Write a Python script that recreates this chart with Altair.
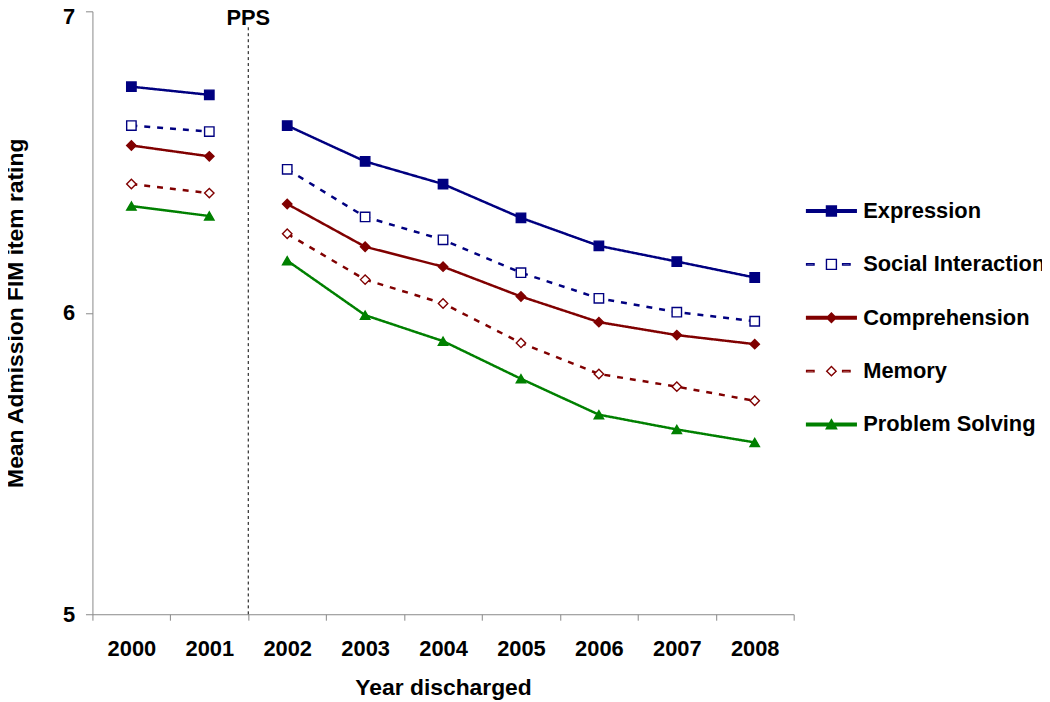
import altair as alt
import pandas as pd

years = ["2000", "2001", "2002", "2003", "2004", "2005", "2006", "2007", "2008"]
series_names = ["Expression", "Social Interaction", "Comprehension", "Memory", "Problem Solving"]
expression = [6.750, 6.723, 6.621, 6.502, 6.427, 6.315, 6.222, 6.170, 6.117]
social = [6.621, 6.601, 6.476, 6.318, 6.242, 6.133, 6.048, 6.002, 5.972]
comprehension = [6.555, 6.519, 6.361, 6.219, 6.153, 6.054, 5.969, 5.926, 5.896]
memory = [6.427, 6.397, 6.262, 6.110, 6.031, 5.900, 5.797, 5.755, 5.708]
problem = [6.354, 6.321, 6.173, 5.992, 5.906, 5.781, 5.662, 5.613, 5.570]
y_ticks = [5, 6, 7]
pps_year = "2002"
pps_label = "PPS"

colors = ["#000080", "#000080", "#800000", "#800000", "#008000"]
fills = ["#000080", "#ffffff", "#800000", "#ffffff", "#008000"]
shapes = ["square", "square", "diamond", "diamond", "triangle-up"]
dashes = [[1, 0], [6, 7], [1, 0], [6, 7], [1, 0]]

line_solid = "M-1,-0.05H1V0.05H-1Z"
line_dashed = "M-1,-0.03H-0.7V0.03H-1Z M0.45,-0.03H0.75V0.03H0.45Z"
sq = "M-0.2,-0.2H0.2V0.2H-0.2Z"
dia = "M0,-0.19L0.19,0L0,0.19L-0.19,0Z"
tri = "M0,-0.2L0.21,0.17H-0.21Z"
legend_shapes = [line_solid + " " + sq, line_dashed + " " + sq, line_solid + " " + dia,
                 line_dashed + " " + dia, line_solid + " " + tri]

rows = []
for name, vals in zip(series_names, [expression, social, comprehension, memory, problem]):
    for y, v in zip(years, vals):
        rows.append({"series": name, "year": y, "value": v,
                     "segment": "pre" if int(y) < 2002 else "post"})
df = pd.DataFrame(rows)

FONT = "Liberation Sans"

x_enc = alt.X("year:O", sort=years, scale=alt.Scale(paddingInner=0, paddingOuter=0),
              axis=alt.Axis(title="Year discharged", labelAngle=0, tickBand="extent",
                            labelPadding=19, titlePadding=17, tickSize=6,
                            domainColor="#888888", tickColor="#888888"))
y_scale = alt.Scale(domain=[5, 7], nice=False, zero=False)
y_enc = alt.Y("value:Q", scale=y_scale,
              axis=alt.Axis(title="Mean Admission FIM item rating", values=y_ticks,
                            labelExpr="format(datum.value, '.0f')",
                            grid=False, tickSize=7, labelPadding=11, titlePadding=35,
                            labelOverlap=False, labelFlush=False,
                            labelOffset={"condition": {"test": "datum.value == 7", "value": 5}, "value": 0},
                            domainColor="#888888", tickColor="#888888"))

color_scale = alt.Scale(domain=series_names, range=colors)
fill_scale = alt.Scale(domain=series_names, range=fills)

lines = alt.Chart(df).mark_line(strokeWidth=2.5).encode(
    x=x_enc, y=y_enc,
    color=alt.Color("series:N", scale=color_scale, legend=None),
    strokeDash=alt.StrokeDash("series:N", scale=alt.Scale(domain=series_names, range=dashes), legend=None),
    detail="segment:N",
)

points = alt.Chart(df).mark_point(filled=False, size=90, strokeWidth=1.4, opacity=1).encode(
    x=alt.X("year:O", sort=years), y=alt.Y("value:Q"),
    color=alt.Color("series:N", scale=color_scale, legend=None),
    fill=alt.Fill("series:N", scale=fill_scale, legend=None),
    shape=alt.Shape("series:N", scale=alt.Scale(domain=series_names, range=shapes), legend=None),
)

pps_df = pd.DataFrame({"year": [pps_year], "top": [6.947], "bottom": [5.0], "label_y": [7.0], "label": [pps_label]})
pps_rule = alt.Chart(pps_df).mark_rule(color="black", strokeDash=[3, 3], strokeWidth=1).encode(
    x=alt.X("year:O", sort=years, bandPosition=0), y="top:Q", y2="bottom:Q")
pps_text = alt.Chart(pps_df).mark_text(font=FONT, fontSize=22, fontWeight="bold", color="black",
                                       align="center", baseline="middle", dy=7).encode(
    x=alt.X("year:O", sort=years, bandPosition=0), y="label_y:Q", text="label:N")

main = alt.layer(lines, points, pps_rule, pps_text)

leg = alt.Legend(title=None, orient="none", legendX=718, legendY=175,
                 symbolSize=2500, labelOffset=6, rowPadding=16.75, labelLimit=400,
                 labelFont=FONT, labelFontSize=22, labelFontWeight="bold",
                 labelColor="black", symbolStrokeWidth=1.4, symbolOpacity=1)

legend_layer = alt.Chart(df).transform_filter(alt.datum.value < 0).mark_point(
    filled=False, strokeWidth=1.4, opacity=1).encode(
    x=alt.X("year:O", sort=years), y=alt.Y("value:Q"),
    color=alt.Color("series:N", scale=alt.Scale(domain=series_names, range=colors), legend=leg),
    fill=alt.Fill("series:N", scale=alt.Scale(domain=series_names, range=fills), legend=leg),
    shape=alt.Shape("series:N", scale=alt.Scale(domain=series_names, range=legend_shapes), legend=leg),
)

chart = alt.layer(main, legend_layer).resolve_scale(
    shape="independent", color="independent", fill="independent"
).properties(
    width=706, height=607,
    autosize=alt.AutoSizeParams(type="none"),
    padding={"left": 85, "top": 1, "right": 250, "bottom": 85},
).configure_view(stroke=None).configure_axis(
    labelFont=FONT, labelFontSize=22, labelFontWeight="bold", labelColor="black",
    titleFont=FONT, titleFontSize=23, titleFontWeight="bold", titleColor="black",
)

chart.save("out.html", embed_options={"renderer": "svg", "actions": False})
